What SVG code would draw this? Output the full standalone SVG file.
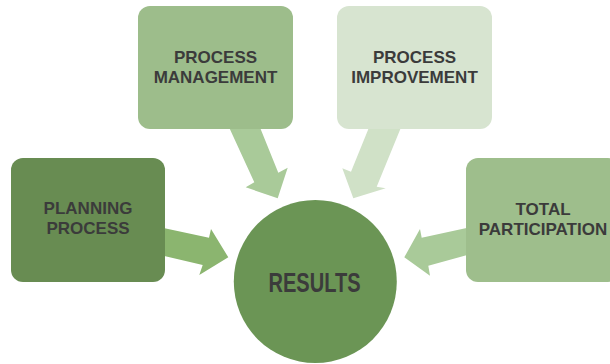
<svg xmlns="http://www.w3.org/2000/svg" width="610" height="364" viewBox="0 0 610 364">
<style>
.lbl{font-family:"Liberation Sans",Arial,sans-serif;font-weight:bold;font-size:17px;fill:#3b3b3b;text-anchor:middle}
.big{font-family:"Liberation Sans",Arial,sans-serif;font-weight:bold;font-size:27px;fill:#3b3b3b;text-anchor:middle}
</style>
<rect width="610" height="364" fill="#ffffff"/>
<g id="connectors">
<polygon fill="#8bb56f" points="160,227.3 209,237.7 211,229 228.3,257.3 199.3,275 202.7,265 160,255"/>
<polygon fill="#a9ca99" points="228,125 259,125 278.3,172.7 287.7,167.7 277.7,198.3 245.7,187.3 254.3,182.3"/>
<polygon fill="#d0e1c7" points="370,125 402,125 376.7,186.7 385.7,188.3 353.3,198.3 342.3,168.3 351,171.7"/>
<polygon fill="#a9ca99" points="470,227.3 421.7,237.7 420,229 404.3,257.3 430,275.7 428.3,265.7 470,254.3"/>
</g>
<g id="planning">
<rect x="11" y="158" width="154" height="124" rx="12" fill="#688c52"/>
<text class="lbl" x="88" y="214">PLANNING</text>
<text class="lbl" x="88" y="234">PROCESS</text>
</g>
<g id="management">
<rect x="138" y="6" width="155" height="123" rx="12" fill="#9dbd8b"/>
<text class="lbl" x="215.5" y="63">PROCESS</text>
<text class="lbl" x="215.5" y="83">MANAGEMENT</text>
</g>
<g id="improvement">
<rect x="337" y="6" width="155" height="123" rx="12" fill="#d7e4d0"/>
<text class="lbl" x="414.5" y="63">PROCESS</text>
<text class="lbl" x="414.5" y="83">IMPROVEMENT</text>
</g>
<g id="participation">
<rect x="466" y="158" width="154" height="124" rx="12" fill="#9ebe8c"/>
<text class="lbl" x="543" y="215">TOTAL</text>
<text class="lbl" x="543" y="235">PARTICIPATION</text>
</g>
<g id="results">
<circle cx="315.3" cy="281.5" r="81.5" fill="#6b9555"/>
<text class="big" x="314.5" y="291.5" textLength="92" lengthAdjust="spacingAndGlyphs">RESULTS</text>
</g>
</svg>
